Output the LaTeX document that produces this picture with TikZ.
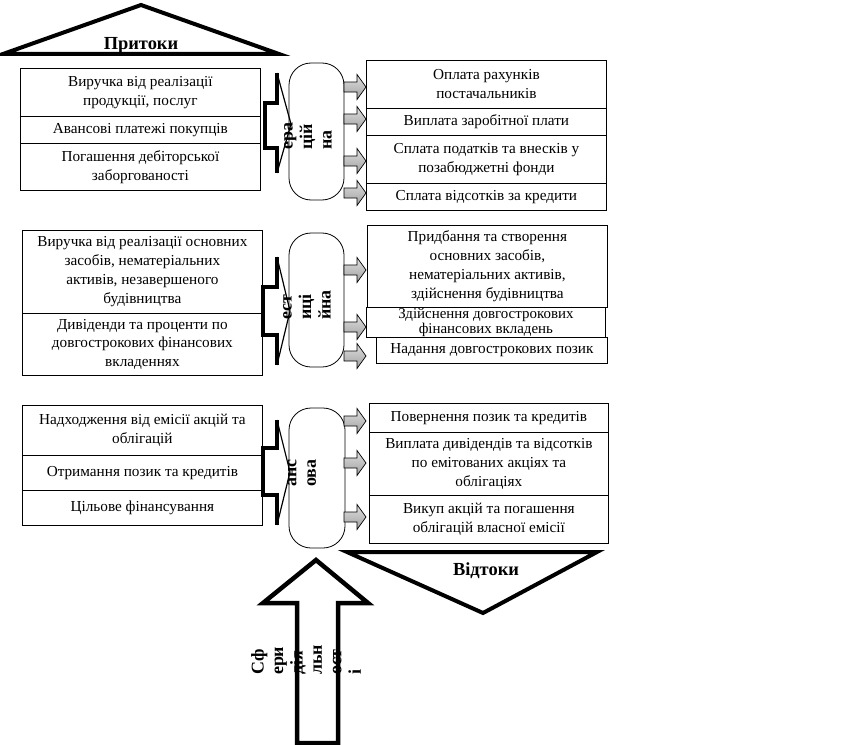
\documentclass[tikz,border=0pt]{standalone}
\usepackage{fontspec}
\setmainfont{Liberation Serif}

\begin{document}
\begin{tikzpicture}[x=1bp,y=-1bp,
  box/.style={draw,line width=0.8bp,align=center,inner sep=0pt,anchor=north west,
    minimum width=240bp,font=\fontsize{15.3}{19}\selectfont},
  phase/.style={draw,line width=0.8bp,rounded corners=22bp,fill=white},
  vlabel/.style={rotate=90,align=left,inner sep=0pt,font=\fontsize{18}{19.5}\selectfont\bfseries},
  inarrow/.style={line width=3.5bp,line join=miter},
  garrow/.style={draw,line width=0.7bp,top color=gray!25,bottom color=gray!75},
  bigtri/.style={draw,line width=4bp,fill=white,line join=miter},
  trilabel/.style={inner sep=0pt,font=\fontsize{18.5}{20}\selectfont\bfseries}]
                          \fill[white] (0,0) rectangle (863,745);
                          \useasboundingbox (0,0) rectangle (863,745);

                          % inflows
                          \draw[bigtri] (3,54) -- (141,5) -- (279,54) -- cycle;
                          \node[trilabel] (pritoky) at (141,45) {Притоки};

                          \node[box,minimum height=48bp] (in1a) at (20,68) {Виручка від реалізації\\продукції, послуг};
                          \node[box,minimum height=27bp] (in1b) at (20,116) {Авансові платежі покупців};
                          \node[box,minimum height=47bp] (in1c) at (20,143) {Погашення дебіторської\\заборгованості};

                          \node[box,minimum height=83bp] (in2a) at (22,230) {Виручка від реалізації основних\\засобів, нематеріальних\\активів, незавершеного\\будівництва};
                          \node[box,minimum height=62bp] (in2b) at (22,313) {Дивіденди та проценти по\\довгострокових фінансових\\вкладеннях};

                          \node[box,minimum height=50bp] (in3a) at (22,405) {Надходження від емісії акцій та\\облігацій};
                          \node[box,minimum height=35bp] (in3b) at (22,455) {Отримання позик та кредитів};
                          \node[box,minimum height=35bp] (in3c) at (22,490) {Цільове фінансування};

                          % phases
                          \node[phase,minimum width=55bp,minimum height=137bp] (oper) at (316.5,131.5) {};
                          \node[phase,minimum width=55bp,minimum height=134bp] (invest) at (316.5,300) {};
                          \node[phase,minimum width=56bp,minimum height=140bp] (finance) at (317,478) {};

                          \node[vlabel] (operl) at (308,136) {ера\\цій\\на};
                          \node[vlabel] (investl) at (307,305) {ест\\иці\\йна};
                          \node[vlabel] (financel) at (302,473) {анс\\ова};

                          \draw[inarrow] (277,73) -- (277,103) -- (265,103) -- (265,148) -- (277,148) -- (277,173);
                          \draw[line width=1.2bp] (277,73) -- (291,124) -- (277,173);
                          \draw[inarrow] (277,257) -- (277,287) -- (263,287) -- (263,335) -- (277,335) -- (277,365);
                          \draw[line width=1.2bp] (277,257) -- (290,311) -- (277,365);
                          \draw[inarrow] (277,420) -- (277,448) -- (263,448) -- (263,495) -- (277,495) -- (277,525);
                          \draw[line width=1.2bp] (277,420) -- (290,472) -- (277,525);

                          \foreach \y in {87,119,161,193,270,327,356,421,463,517}
                            \draw[garrow] (344,\y-5) -- (357,\y-5) -- (357,\y-12.5) -- (366,\y) -- (357,\y+12.5) -- (357,\y+5) -- (344,\y+5) -- cycle;

                          % outflows
                          \node[box,minimum height=48bp] (out1a) at (366,60) {Оплата рахунків\\постачальників};
                          \node[box,minimum height=27bp] (out1b) at (366,108) {Виплата заробітної плати};
                          \node[box,minimum height=48bp] (out1c) at (366,135) {Сплата податків та внесків у\\позабюджетні фонди};
                          \node[box,minimum height=27bp] (out1d) at (366,183) {Сплата відсотків за кредити};

                          \node[box,minimum height=82bp] (out2a) at (367,225) {Придбання та створення\\основних засобів,\\нематеріальних активів,\\здійснення будівництва};
                          \node[box,minimum width=239bp,minimum height=30bp,font=\fontsize{15}{15.5}\selectfont] (out2b) at (366,307) {Здійснення довгострокових\\фінансових вкладень};
                          \node[box,minimum width=231bp,minimum height=26bp] (out2c) at (376,337) {Надання довгострокових позик};

                          \node[box,minimum width=239bp,minimum height=29bp] (out3a) at (369,403) {Повернення позик та кредитів};
                          \node[box,minimum width=239bp,minimum height=63bp] (out3b) at (369,432) {Виплата дивідендів та відсотків\\по емітованих акціях та\\облігаціях};
                          \node[box,minimum width=239bp,minimum height=48bp] (out3c) at (369,495) {Викуп акцій та погашення\\облігацій власної емісії};

                          \draw[bigtri] (347,552) -- (597,552) -- (483,613) -- cycle;
                          \node[trilabel] (vidtoky) at (486,571) {Відтоки};

                          % spheres
                          \draw[line width=4.5bp,line join=miter] (316,560) -- (368,603) -- (338,603) -- (338,743) -- (297,743) -- (297,603) -- (263,603) -- cycle;
                          \node[vlabel] (sfery) at (306,660) {Сф\\ери\\дія\\льн\\ост\\і};
\end{tikzpicture}
\end{document}
